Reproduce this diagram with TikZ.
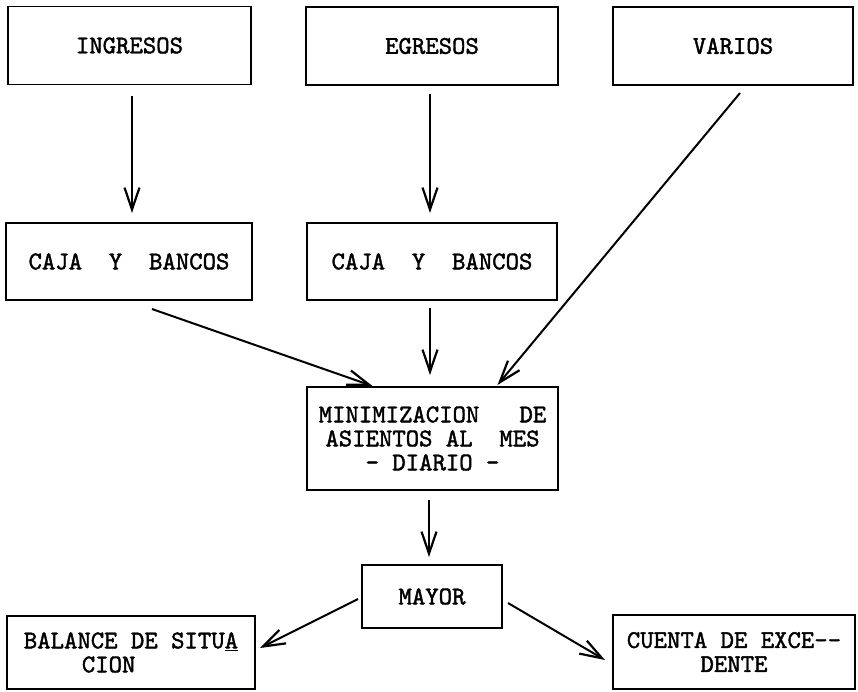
\documentclass[tikz,border=0pt]{standalone}
\usepackage{fontspec}
\newfontfamily\tw{lmmono10-regular}[Extension=.otf, FakeBold=1.6]
\usetikzlibrary{arrows.meta}
\begin{document}
\begin{tikzpicture}[x=1pt,y=-1pt,
  box/.style={draw, line width=1.7pt, inner sep=0pt, outer sep=0pt,
    font=\tw\fontsize{25.5}{24}\selectfont, align=center},
  arr/.style={line width=2pt, -{Straight Barb[length=22pt,width=15pt,line width=2.2pt]}}]
\useasboundingbox (0,0) rectangle (858,691);
% top row
\node[box, minimum width=243pt, minimum height=78pt] (ing) at (129.5,45.5) {INGRESOS};
\node[box, minimum width=252pt, minimum height=78pt] (egr) at (432,46) {EGRESOS};
\node[box, minimum width=240pt, minimum height=78pt] (var) at (733,46) {VARIOS};
% second row
\node[box, minimum width=246pt, minimum height=77pt] (caja1) at (129,261.5) {CAJA~~Y~~BANCOS};
\node[box, minimum width=250pt, minimum height=77pt] (caja2) at (432,261.5) {CAJA~~Y~~BANCOS};
% middle
\node[box, minimum width=251pt, minimum height=103pt] (minim) at (432.5,438.5)
  {MINIMIZACION~~~DE\\ASIENTOS~AL~~MES\\- DIARIO -};
\node[box, minimum width=140pt, minimum height=63pt] (mayor) at (432,596.5) {MAYOR};
% bottom
\node[box, minimum width=248pt, minimum height=73pt, align=left] (bal) at (131,652.5)
  {BALANCE DE SITU\underline{A}\\\hspace*{58pt}CION};
\node[box, minimum width=242pt, minimum height=74pt] (cue) at (734,652)
  {CUENTA DE EXCE--\\DENTE};
% connectors
\draw[arr] ([xshift=2.5pt,yshift=-11pt]ing.south) -- ([xshift=3pt,yshift=10pt]caja1.north);
\draw[arr] ([xshift=-2pt,yshift=-9pt]egr.south) -- ([xshift=-2pt,yshift=10pt]caja2.north);
\draw[arr] ([xshift=23pt,yshift=-9pt]caja1.south) -- ([xshift=-60pt,yshift=1pt]minim.north);
\draw[arr] ([xshift=-2pt,yshift=-8pt]caja2.south) -- ([xshift=-2.5pt,yshift=12pt]minim.north);
\draw[arr] ([xshift=7pt,yshift=-8pt]var.south) -- ([xshift=65pt,yshift=2pt]minim.north);
\draw[arr] ([xshift=-3.5pt,yshift=-10pt]minim.south) -- ([xshift=-3pt,yshift=8pt]mayor.north);
\draw[arr] ([xshift=-4pt,yshift=-2.5pt]mayor.west) -- ([xshift=5pt,yshift=4.5pt]bal.east);
\draw[arr] ([xshift=6pt,yshift=-6.5pt]mayor.east) -- ([xshift=-8pt,yshift=-8pt]cue.west);
\end{tikzpicture}
\end{document}
